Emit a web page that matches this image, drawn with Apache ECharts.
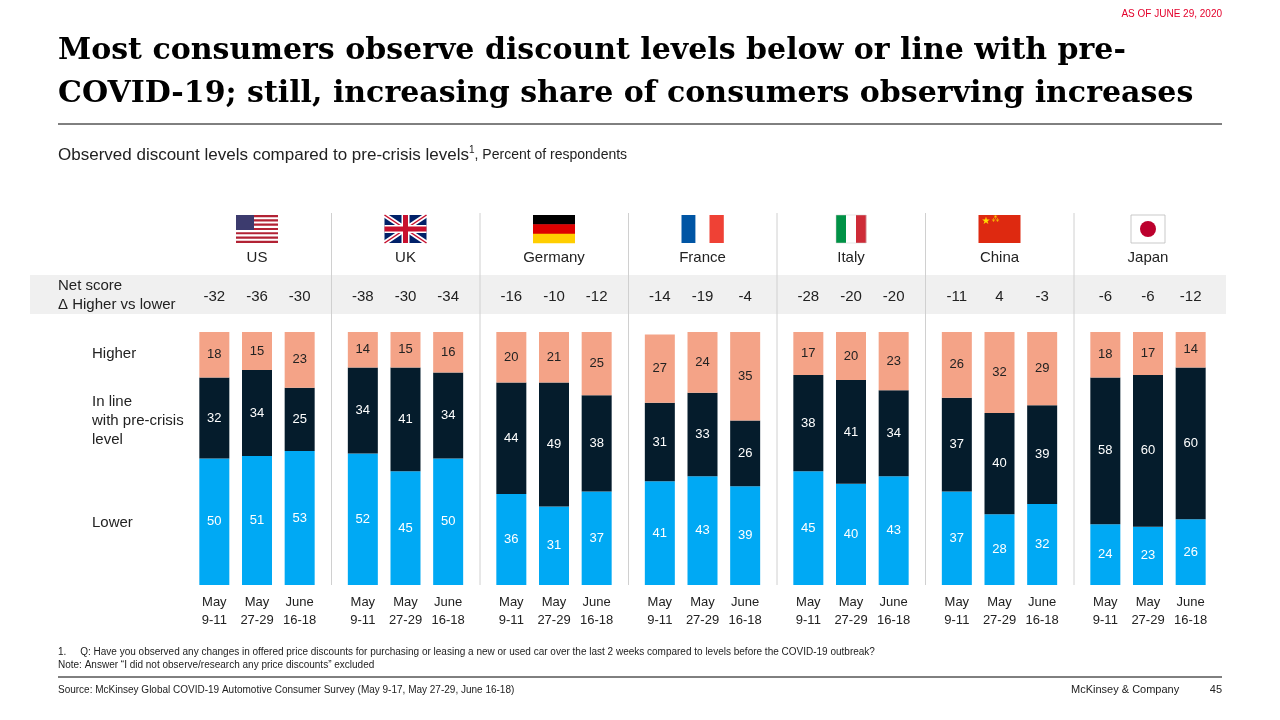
<!DOCTYPE html>
<html lang="en">
<head>
<meta charset="UTF-8">
<title>Observed discount levels</title>
<script src="https://cdn.jsdelivr.net/npm/echarts@6/dist/echarts.min.js"></script>
<style>
    html, body { margin: 0; padding: 0; background: #fff; }
    #chart { width: 1280px; height: 720px; }
</style>
</head>
<body>
<div id="chart"></div>
<script type="text/javascript">
    // data
    var countries = ['US', 'UK', 'Germany', 'France', 'Italy', 'China', 'Japan'];
    var periods = ['May\n9-11', 'May\n27-29', 'June\n16-18'];
    var lower = [[50, 51, 53], [52, 45, 50], [36, 31, 37], [41, 43, 39], [45, 40, 43], [37, 28, 32], [24, 23, 26]];
    var inLine = [[32, 34, 25], [34, 41, 34], [44, 49, 38], [31, 33, 26], [38, 41, 34], [37, 40, 39], [58, 60, 60]];
    var higher = [[18, 15, 23], [14, 15, 16], [20, 21, 25], [27, 24, 35], [17, 20, 23], [26, 32, 29], [18, 17, 14]];
    var netScore = [[-32, -36, -30], [-38, -30, -34], [-16, -10, -12], [-14, -19, -4], [-28, -20, -20], [-11, 4, -3], [-6, -6, -12]];

    var FONT = '"Liberation Sans", Arial, sans-serif';
    var C_LOW = '#00a9f4', C_MID = '#051c2c', C_HIGH = '#f4a387';
    var GL = 193, GW = 128, STEP = 148.5;

    var grids = [], xAxes = [], yAxes = [], series = [], graphics = [];

    function txt(x, y, s, style) {
        graphics.push({type: 'text', left: x, top: y, style: Object.assign({text: s, font: '14px ' + FONT, fill: '#222'}, style || {})});
    }

    // grey band for net score row
    graphics.push({type: 'rect', shape: {x: 30, y: 275, width: 1196, height: 39}, style: {fill: '#f0f0f0'}, z: -1});

    countries.forEach(function (c, i) {
        var left = GL + STEP * i;
        var cx = left + GW / 2;
        grids.push({left: left, width: GW, top: 332, bottom: 135});
        xAxes.push({gridIndex: i, type: 'category', data: periods,
            axisLine: {show: false}, axisTick: {show: false},
            axisLabel: {interval: 0, color: '#222', fontSize: 13, fontFamily: FONT, lineHeight: 18, margin: 8}});
        xAxes.push({gridIndex: i, type: 'category', position: 'top', offset: 20,
            data: netScore[i].map(String),
            axisLine: {show: false}, axisTick: {show: false},
            axisLabel: {interval: 0, color: '#222', fontSize: 15, fontFamily: FONT}});
        yAxes.push({gridIndex: i, type: 'value', min: 0, max: 100, show: false});
        [[lower[i], C_LOW, '#fff'], [inLine[i], C_MID, '#fff'], [higher[i], C_HIGH, '#222']].forEach(function (s) {
            series.push({type: 'bar', xAxisIndex: 2 * i, yAxisIndex: i, stack: 's' + i,
                data: s[0], barWidth: 30, itemStyle: {color: s[1]},
                label: {show: true, position: 'inside', color: s[2], fontSize: 13, fontFamily: FONT}});
        });
        // country name
        graphics.push({type: 'text', x: cx, y: 250, style: {text: c, font: '15px ' + FONT, fill: '#222', align: 'center'}});
        // separators
        if (i > 0) {
            graphics.push({type: 'line', shape: {x1: left - 10, y1: 213, x2: left - 10, y2: 585}, style: {stroke: '#d0d0d0', lineWidth: 1}});
        }
        // flags
        var fx = cx - 21, fy = 215, fw = 42, fh = 28;
        var g = [];
        if (c === 'US') {
            g.push({type: 'rect', shape: {x: fx, y: fy, width: fw, height: fh}, style: {fill: '#fff'}});
            for (var k = 0; k < 7; k++) g.push({type: 'rect', shape: {x: fx, y: fy + k * 4.3, width: fw, height: 2.15}, style: {fill: '#b22234'}});
            g.push({type: 'rect', shape: {x: fx, y: fy, width: 18, height: 15}, style: {fill: '#3c3b6e'}});
        } else if (c === 'UK') {
            g.push({type: 'rect', shape: {x: fx, y: fy, width: fw, height: fh}, style: {fill: '#012169'}});
            g.push({type: 'line', shape: {x1: fx, y1: fy, x2: fx + fw, y2: fy + fh}, style: {stroke: '#fff', lineWidth: 5}});
            g.push({type: 'line', shape: {x1: fx + fw, y1: fy, x2: fx, y2: fy + fh}, style: {stroke: '#fff', lineWidth: 5}});
            g.push({type: 'line', shape: {x1: fx, y1: fy, x2: fx + fw, y2: fy + fh}, style: {stroke: '#c8102e', lineWidth: 1.5}});
            g.push({type: 'line', shape: {x1: fx + fw, y1: fy, x2: fx, y2: fy + fh}, style: {stroke: '#c8102e', lineWidth: 1.5}});
            g.push({type: 'rect', shape: {x: fx, y: fy + 10, width: fw, height: 8}, style: {fill: '#fff'}});
            g.push({type: 'rect', shape: {x: fx + 17, y: fy, width: 8, height: fh}, style: {fill: '#fff'}});
            g.push({type: 'rect', shape: {x: fx, y: fy + 11.5, width: fw, height: 5}, style: {fill: '#c8102e'}});
            g.push({type: 'rect', shape: {x: fx + 18.5, y: fy, width: 5, height: fh}, style: {fill: '#c8102e'}});
        } else if (c === 'Germany') {
            ['#000', '#dd0000', '#ffce00'].forEach(function (col, k) {
                g.push({type: 'rect', shape: {x: fx, y: fy + k * fh / 3, width: fw, height: fh / 3 + 0.3}, style: {fill: col}});
            });
        } else if (c === 'France' || c === 'Italy') {
            var cols = c === 'France' ? ['#0055a4', '#fff', '#ef4135'] : ['#009246', '#fff', '#ce2b37'];
            var w = c === 'Italy' ? 30 : fw, ox = c === 'Italy' ? fx + 6 : fx;
            cols.forEach(function (col, k) {
                g.push({type: 'rect', shape: {x: ox + k * w / 3, y: fy, width: w / 3 + 0.3, height: fh}, style: {fill: col}});
            });
            if (c === 'Italy') g.push({type: 'rect', shape: {x: ox, y: fy, width: w, height: fh}, style: {fill: 'none', stroke: '#ccc', lineWidth: 0.5}});
        } else if (c === 'China') {
            g.push({type: 'rect', shape: {x: fx, y: fy, width: fw, height: fh}, style: {fill: '#de2910'}});
            g.push({type: 'text', x: fx + 3, y: fy + 1, style: {text: '★', font: '10px "DejaVu Sans"', fill: '#ffde00'}});
            g.push({type: 'text', x: fx + 13, y: fy + 1, style: {text: '⁂', font: '8px "DejaVu Sans"', fill: '#ffde00'}});
        } else if (c === 'Japan') {
            g.push({type: 'rect', shape: {x: fx + 4, y: fy, width: 34, height: fh}, style: {fill: '#fff', stroke: '#bbb', lineWidth: 0.8}});
            g.push({type: 'circle', shape: {cx: cx, cy: fy + fh / 2, r: 8}, style: {fill: '#bc002d'}});
        }
        graphics.push({type: 'group', children: g});
    });

    // header and notes
    graphics.push({type: 'text', right: 58, top: 9, style: {text: 'AS OF JUNE 29, 2020', font: '10px ' + FONT, fill: '#e4002b'}});
    txt(58, 30, 'Most consumers observe discount levels below or line with pre-\nCOVID-19; still, increasing share of consumers observing increases',
        {font: 'bold 30px "DejaVu Serif", Georgia, serif', fill: '#000', lineHeight: 43});
    graphics.push({type: 'line', shape: {x1: 58, y1: 124, x2: 1222, y2: 124}, style: {stroke: '#000', lineWidth: 1}});
    graphics.push({type: 'text', left: 58, top: 145, style: {text: '{a|Observed discount levels compared to pre-crisis levels}{s|1}{b|, Percent of respondents}',
        rich: {a: {font: '17px ' + FONT, fill: '#222'}, s: {font: '10px ' + FONT, fill: '#222', verticalAlign: 'top', padding: [0, 0, 10, 0]}, b: {font: '14px ' + FONT, fill: '#222'}}}});
    txt(58, 276, 'Net score\nΔ Higher vs lower', {font: '15px ' + FONT, lineHeight: 19});
    txt(92, 346, 'Higher', {font: '15px ' + FONT});
    txt(92, 392, 'In line\nwith pre-crisis\nlevel', {font: '15px ' + FONT, lineHeight: 19});
    txt(92, 515, 'Lower', {font: '15px ' + FONT});
    txt(58, 646, '1.     Q: Have you observed any changes in offered price discounts for purchasing or leasing a new or used car over the last 2 weeks compared to levels before the COVID-19 outbreak?\nNote: Answer “I did not observe/research any price discounts” excluded',
        {font: '10px ' + FONT, lineHeight: 13});
    graphics.push({type: 'line', shape: {x1: 58, y1: 677, x2: 1222, y2: 677}, style: {stroke: '#000', lineWidth: 1}});
    txt(58, 685, 'Source: McKinsey Global COVID-19 Automotive Consumer Survey (May 9-17, May 27-29, June 16-18)', {font: '10px ' + FONT});
    graphics.push({type: 'text', right: 58, top: 684, style: {text: 'McKinsey & Company          45', font: '11px ' + FONT, fill: '#222'}});

    var myChart = echarts.init(document.getElementById('chart'));
    myChart.setOption({
        animation: false,
        grid: grids,
        xAxis: xAxes,
        yAxis: yAxes,
        series: series,
        graphic: graphics
    });
</script>
</body>
</html>
